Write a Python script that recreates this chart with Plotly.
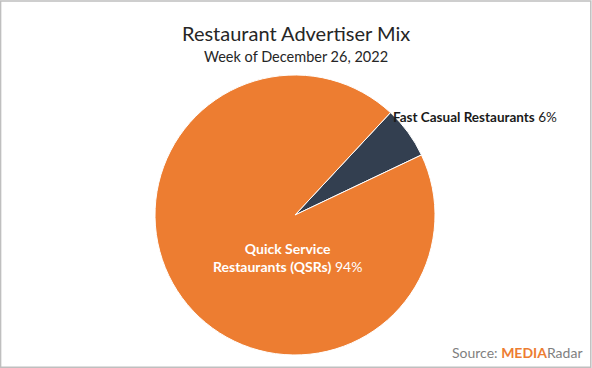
import plotly.graph_objects as go

categories = ["Fast Casual Restaurants", "Quick Service Restaurants (QSRs)"]
values = [6, 94]
colors = ["#333F50", "#ED7D31"]

W, H = 592, 368
FONT = "Lato, Open Sans, sans-serif"

fig = go.Figure(go.Pie(
    labels=categories,
    values=values,
    sort=False,
    direction="clockwise",
    rotation=43,
    marker=dict(colors=colors, line=dict(color="white", width=1)),
    textinfo="none",
    hoverinfo="label+percent",
    showlegend=False,
    domain=dict(x=[155 / W, 435 / W], y=[13 / H, 293 / H]),
))

total = sum(values)
pcts = [round(v / total * 100) for v in values]

annotations = [
    dict(text="Restaurant Advertiser Mix", x=0.5, y=1 - 33 / H, xref="paper", yref="paper",
         showarrow=False, font=dict(family=FONT, size=20, color="#262626"), xanchor="center", yanchor="middle"),
    dict(text="Week of December 26, 2022", x=0.5, y=1 - 57 / H, xref="paper", yref="paper",
         showarrow=False, font=dict(family=FONT, size=14.5, color="#262626"), xanchor="center", yanchor="middle"),
    dict(text=f"<b>Fast Casual Restaurants</b> {pcts[0]}%", x=391 / W, y=1 - 117 / H, xref="paper", yref="paper",
         showarrow=False, font=dict(family=FONT, size=13.5, color="#1a1a1a"), xanchor="left", yanchor="middle"),
    dict(text=f"<b>Quick Service</b><br><b>Restaurants (QSRs)</b> {pcts[1]}%", x=287 / W, y=1 - 257 / H,
         xref="paper", yref="paper", showarrow=False,
         font=dict(family=FONT, size=14, color="white"), xanchor="center", yanchor="middle", align="center"),
    dict(text="Source: <b><span style='color:#ED7D31'>MEDIA</span></b><span style='color:#7F7F7F'>Radar</span>",
         x=584 / W, y=1 - 352 / H, xref="paper", yref="paper", showarrow=False,
         font=dict(family=FONT, size=14, color="#7F7F7F"), xanchor="right", yanchor="middle"),
]

fig.update_layout(
    width=W, height=H,
    margin=dict(l=0, r=0, t=0, b=0),
    paper_bgcolor="white", plot_bgcolor="white",
    annotations=annotations,
    shapes=[dict(type="rect", xref="paper", yref="paper", x0=0.001, y0=0.002, x1=0.998, y1=0.997,
                 line=dict(color="#BFBFBF", width=1.5))],
)

fig.write_html(
    "out.html",
    config={"displayModeBar": False},
    post_script="document.body.style.margin='0';document.body.style.overflow='hidden';",
)
